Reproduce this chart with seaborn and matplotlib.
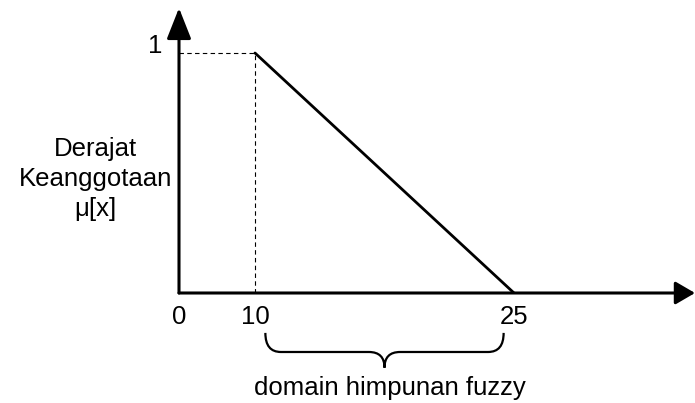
import numpy as np
import matplotlib
matplotlib.use("Agg")
import matplotlib.pyplot as plt
import seaborn as sns
from matplotlib.path import Path
from matplotlib.patches import PathPatch

# data: fungsi keanggotaan linear turun
x_turun = [10, 25]
mu_turun = [1, 0]
x_ticks = [0, 10, 25]
x_tick_labels = ["0", "10", "25"]
y_ticks = [1]
y_tick_labels = ["1"]
domain = [10, 25]
label_y = "Derajat\nKeanggotaan\nμ[x]"
label_domain = "domain himpunan fuzzy"

sns.set_theme(style="white")
plt.rcParams["font.family"] = ["Liberation Sans", "DejaVu Sans"]
fs = 18.5

fig = plt.figure(figsize=(6.95, 4.03), dpi=100)
ax = fig.add_axes([179 / 695, 110 / 403, 516 / 695, 285 / 403])

# skala x skematis: 0-10 lebih rapat dari 10-25
xk = [-100, 0, 10, 25, 100]
pk = [-760, 0, 76, 335, 1630]
fwd = lambda x: np.interp(x, xk, pk)
inv = lambda p: np.interp(p, pk, xk)
ax.set_xscale("function", functions=(fwd, inv))
ax.set_xlim(0, float(inv(516)))
ax.set_ylim(0, 285 / 240)

sns.lineplot(x=x_turun, y=mu_turun, color="black", lw=2.0, ax=ax)
ax.plot([0, x_turun[0]], [mu_turun[0], mu_turun[0]], color="black", lw=0.8, ls=(0, (4, 3)))
ax.plot([x_turun[0], x_turun[0]], [0, mu_turun[0]], color="black", lw=0.8, ls=(0, (4, 3)))

for s in ax.spines.values():
    s.set_visible(False)

# sumbu dengan panah
ax.annotate("", xy=(1, 0), xytext=(0, 0), xycoords="axes fraction",
            arrowprops=dict(arrowstyle="-|>,head_length=1.2,head_width=0.7",
                            mutation_scale=10, color="black", lw=2.2,
                            shrinkA=0, shrinkB=0), annotation_clip=False)
ax.annotate("", xy=(0, 1), xytext=(0, 0), xycoords="axes fraction",
            arrowprops=dict(arrowstyle="-|>,head_length=1.9,head_width=0.75",
                            mutation_scale=10, color="black", lw=2.2,
                            shrinkA=0, shrinkB=0), annotation_clip=False)

ax.set_xticks(x_ticks, labels=x_tick_labels)
ax.set_yticks(y_ticks, labels=y_tick_labels)
ax.tick_params(axis="x", length=0, pad=9, labelsize=fs, colors="black")
ax.tick_params(axis="y", length=0, pad=12, labelsize=fs, colors="black")
for t in ax.get_yticklabels():
    t.set_va("baseline")

ax.set_ylabel(label_y, rotation=0, fontsize=fs, color="black",
              ha="center", va="center", multialignment="center", linespacing=1.3)
ax.yaxis.set_label_coords(-0.162, 0.40)
ax.set_xlabel(label_domain, fontsize=fs, color="black", va="center")
ax.xaxis.set_label_coords(0.409, -0.333)

# kurung kurawal di bawah domain
xa, xb = domain[0] + 0.6, domain[1] - 0.6
xm = (domain[0] + domain[1]) / 2
r = 0.9
yt, yb, ytip = -0.140, -0.207, -0.262
verts = [(xa, yt), (xa, yb), (xa + r, yb), (xm - r, yb),
         (xm, yb), (xm, ytip), (xm, yb), (xm + r, yb),
         (xb - r, yb), (xb, yb), (xb, yt)]
codes = [Path.MOVETO, Path.CURVE3, Path.CURVE3, Path.LINETO,
         Path.CURVE3, Path.CURVE3, Path.CURVE3, Path.CURVE3,
         Path.LINETO, Path.CURVE3, Path.CURVE3]
ax.add_patch(PathPatch(Path(verts, codes), transform=ax.get_xaxis_transform(),
                       fill=False, lw=1.6, color="black", clip_on=False))

fig.savefig("out.png", dpi=100)
